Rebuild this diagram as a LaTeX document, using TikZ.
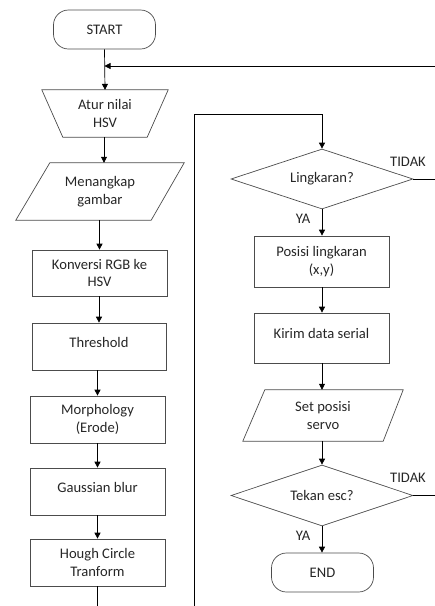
\documentclass[tikz,border=0pt]{standalone}
\usepackage{fontspec}
\setmainfont{Carlito}
\usetikzlibrary{arrows.meta,shapes.geometric,calc}
\begin{document}
\begin{tikzpicture}[x=1pt,y=-1pt,
  font=\fontsize{14.6}{17.5}\selectfont,
  shp/.style={draw=black!70, line width=0.7pt},
  box/.style={shp, rectangle, minimum width=135pt, minimum height=47pt, inner sep=1pt, align=center, text=black!85},
  term/.style={shp, rectangle, rounded corners=15pt, minimum width=102pt, minimum height=39pt, inner sep=1pt, text=black!85},
  dec/.style={shp, diamond, aspect=3, minimum width=182pt, minimum height=60pt, inner sep=1pt, text=black!85},
  bare/.style={rectangle, inner sep=0pt, align=center, text=black!85},
  conn/.style={line width=0.7pt, black},
  arr/.style={conn, -{Triangle[length=6pt,width=6pt]}},
  lbl/.style={text=black!85, inner sep=0pt},
  one/.style={text height=10pt, text depth=9pt}
]
\useasboundingbox (0,0) rectangle (435,606);

% ---------- left column ----------
\node[term] (start) at (104.5,29.5) {START};

\node[bare, minimum width=126pt, minimum height=47pt] (atur) at (105,113.5) {Atur nilai\\HSV};
\draw[shp] (atur.north west) -- (atur.north east) -- ([xshift=-21pt]atur.south east)
  -- ([xshift=21pt]atur.south west) -- cycle;

\node[bare, minimum width=168pt, minimum height=57pt] (menang) at (100,191.5) {Menangkap\\gambar};
\draw[shp] ([xshift=34pt]menang.north west) -- (menang.north east) -- ([xshift=-33pt]menang.south east)
  -- (menang.south west) -- cycle;

\node[box, minimum height=46pt] (konv) at (99.5,273) {Konversi RGB ke\\HSV};
\node[box, one, minimum width=134pt] (thr) at (99,346.5) {Threshold};
\node[box] (morph) at (97.5,419.5) {Morphology\\(Erode)};
\node[box, one] (gauss) at (97.5,491.5) {Gaussian blur};
\node[box] (hough) at (97.5,562.5) {Hough Circle\\Tranform};

\coordinate (loopin) at (435,66);
\coordinate (hend) at (97.5,606);

\draw[arr] (start.south) -- (atur.north);
\draw[arr] (loopin) -- (start.south |- loopin);
\draw[arr] (atur.south -| 104,0) -- (104,0 |- menang.north);
\draw[arr] (menang.south -| konv.north) -- (konv.north);
\draw[arr] (konv.south -| thr.north) -- (thr.north);
\draw[arr] (thr.south -| morph.north) -- (morph.north);
\draw[arr] (morph.south) -- (gauss.north);
\draw[arr] (gauss.south) -- (hough.north);
\draw[conn] (hough.south) -- (hend);

% ---------- right column ----------
\node[dec] (ling) at (322,179) {Lingkaran?};
\node[box, minimum height=51pt] (pos) at (321.5,261.5) {Posisi lingkaran\\(x,y)};
\node[box, one, minimum height=50pt] (kirim) at (321.5,338) {Kirim data serial};
\node[bare, minimum width=160pt, minimum height=51pt] (set) at (323,415.5) {Set posisi\\servo};
\draw[shp] ([xshift=22pt]set.north west) -- (set.north east) -- ([xshift=-20pt]set.south east)
  -- (set.south west) -- cycle;
\node[dec, minimum height=61pt] (tekan) at (322,495.5) {Tekan esc?};
\node[term] (end) at (322.5,572.5) {END};

\coordinate (rin) at (194,606);
\coordinate (lingout) at (435,179);
\coordinate (tekanout) at (435,495.5);

\draw[arr] (rin) -- (194,114) -- (ling.north |- 0,114) -- (ling.north);
\draw[conn] (ling.east) -- (lingout);
\node[lbl] at (408,162) {TIDAK};
\draw[arr] (ling.south) -- (ling.south |- pos.north);
\node[lbl] at (303,219) {YA};
\draw[arr] (pos.south -| ling.south) -- (ling.south |- kirim.north);
\draw[arr] (kirim.south -| ling.south) -- (ling.south |- set.north);
\draw[arr] (set.south -| ling.south) -- (tekan.north);
\draw[conn] (tekan.east) -- (tekanout);
\node[lbl] at (408,478) {TIDAK};
\draw[arr] (tekan.south) -- (tekan.south |- end.north);
\node[lbl] at (303,536) {YA};
\end{tikzpicture}
\end{document}
